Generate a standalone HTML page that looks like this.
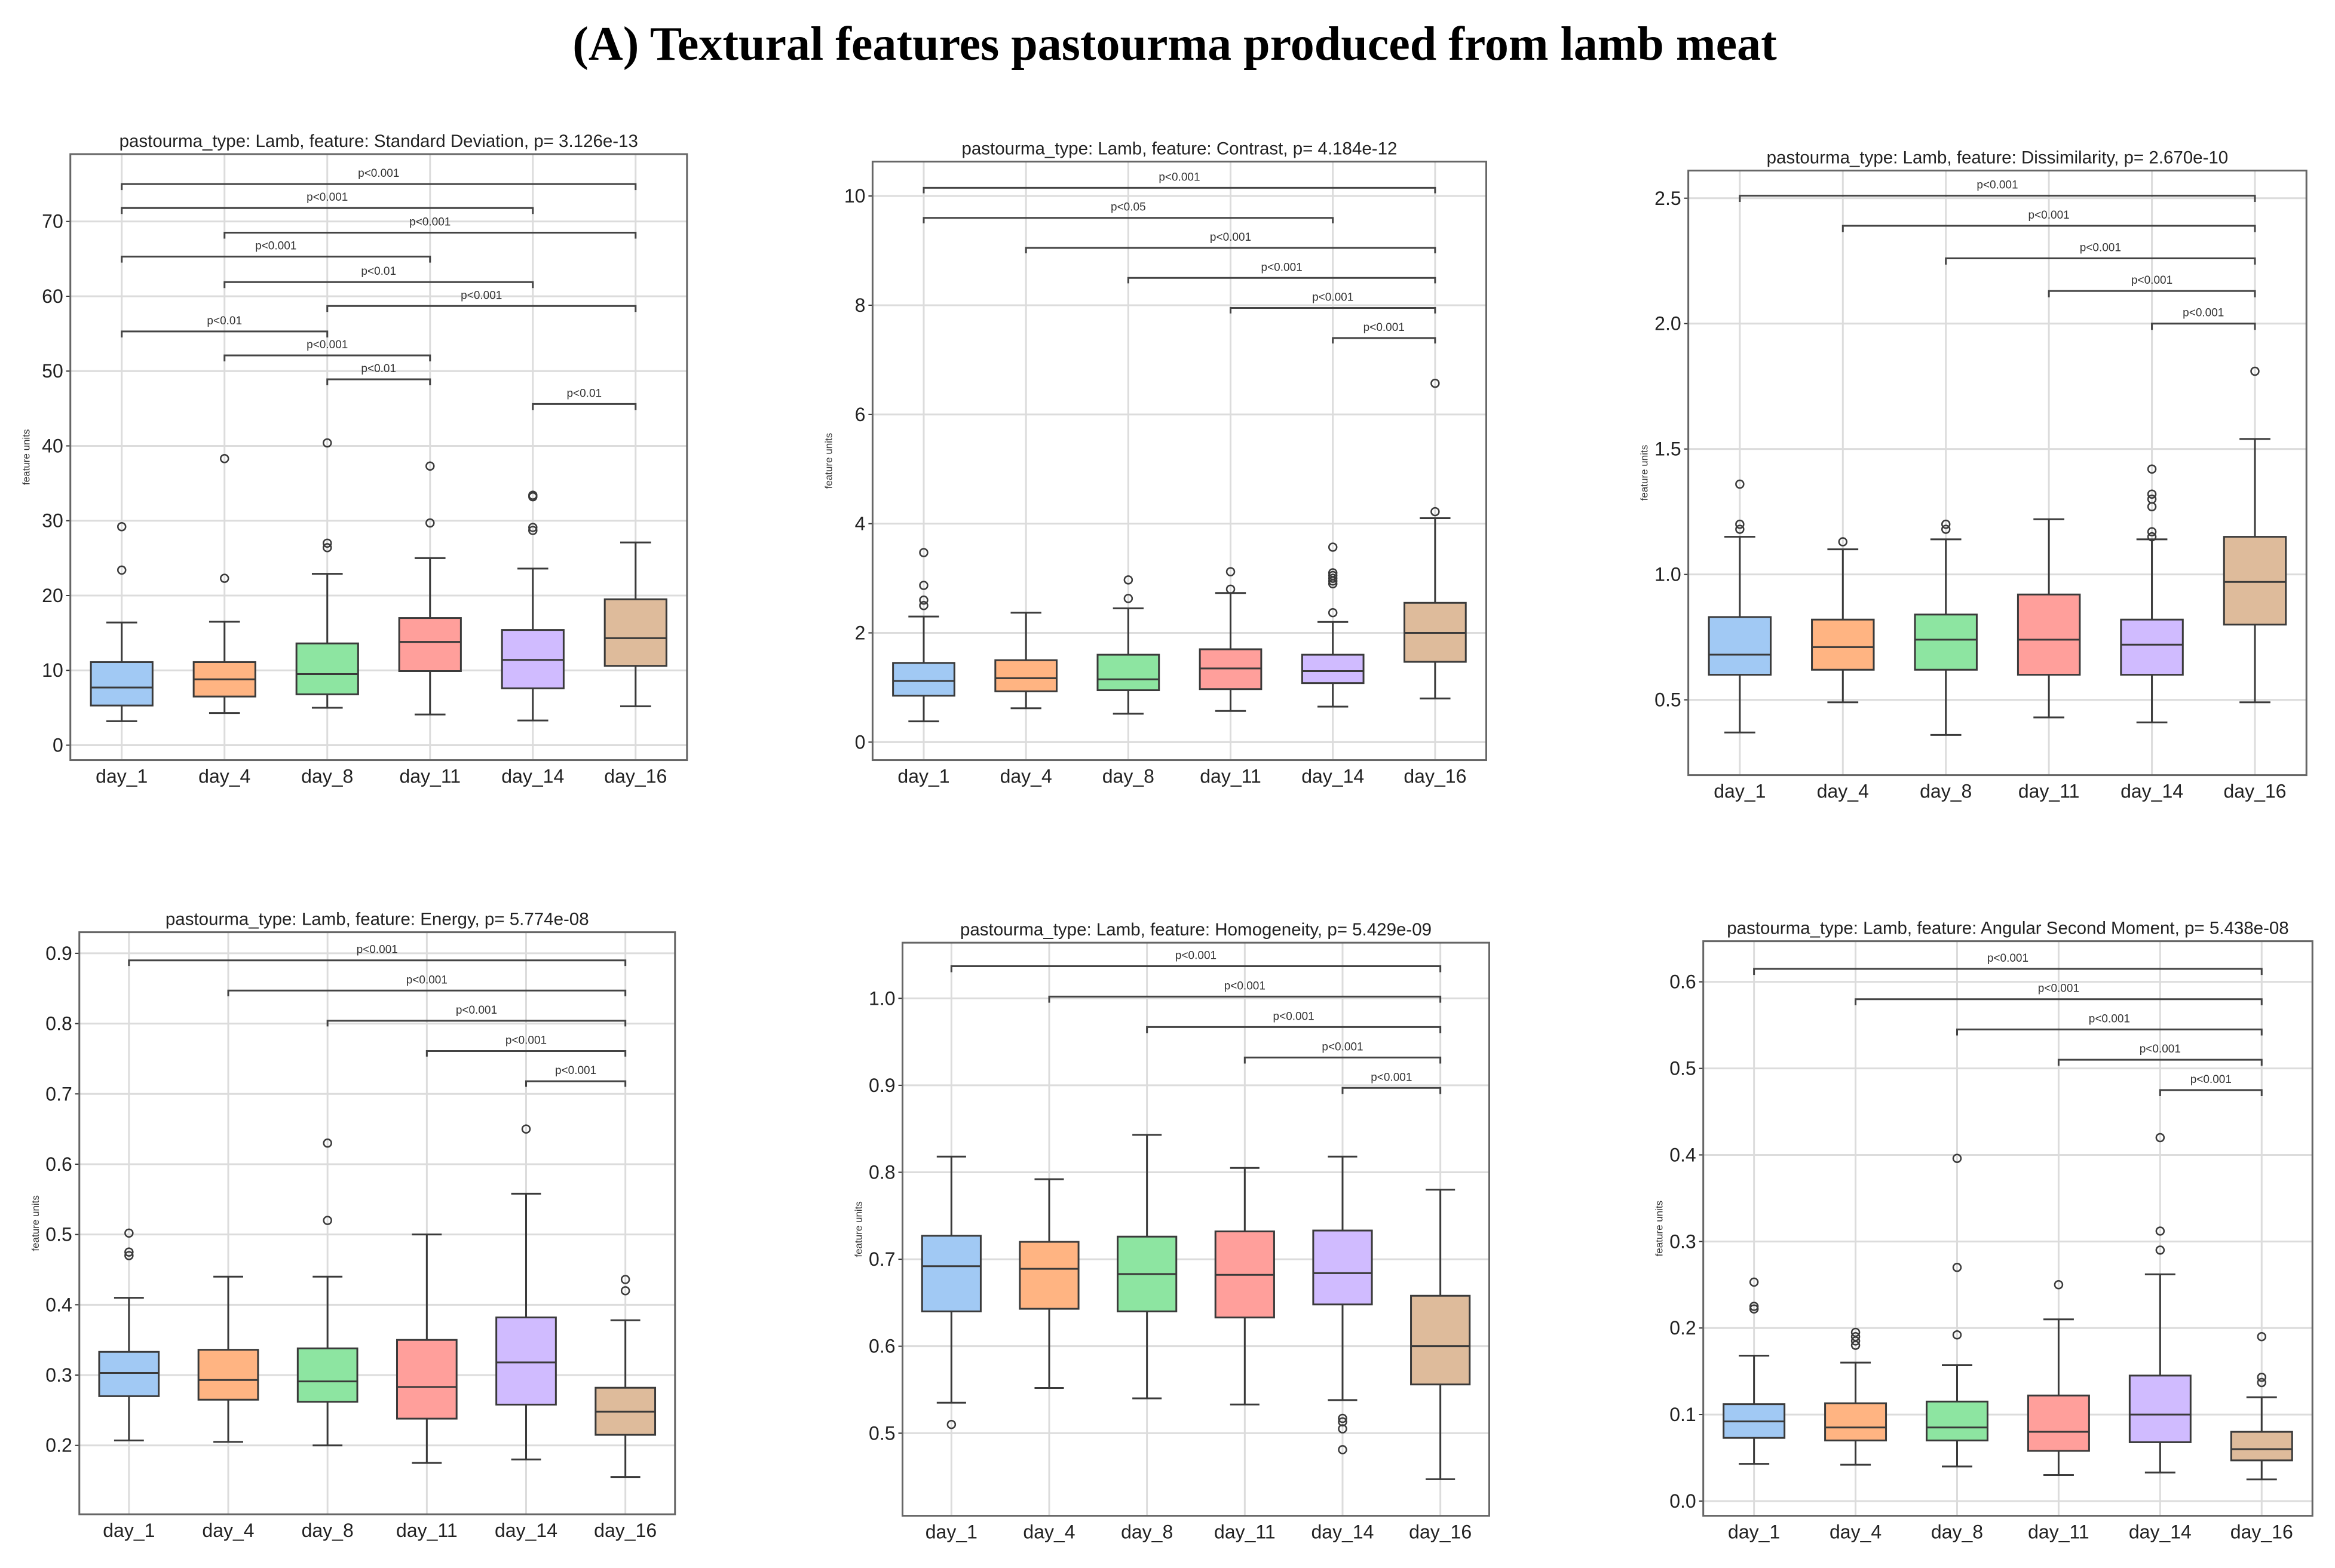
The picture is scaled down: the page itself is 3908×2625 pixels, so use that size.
<!DOCTYPE html>
<html><head><meta charset="utf-8">
<style>
html,body{margin:0;padding:0;background:#fff;}
svg{display:block;}
text{font-family:"Liberation Sans",sans-serif;}
</style></head>
<body>
<svg id="chart" width="3908" height="2625" viewBox="0 0 3908 2625" xmlns="http://www.w3.org/2000/svg">
<text x="1966" y="100" text-anchor="middle" font-size="80" font-weight="bold" style="font-family:'Liberation Serif',serif">(A) Textural features pastourma produced from lamb meat</text>
</svg>
<script>
const categories = ["day_1","day_4","day_8","day_11","day_14","day_16"];
const colors = ["#a1c9f4","#ffb482","#8de5a1","#ff9f9b","#d0bbff","#debb9b"];
const featureNames = ["Standard Deviation","Contrast","Dissimilarity","Energy","Homogeneity","Angular Second Moment"];
const pValues = ["3.126e-13","4.184e-12","2.670e-10","5.774e-08","5.429e-09","5.438e-08"];
// each box: [q1, median, q3, whiskerLow, whiskerHigh]
const sdBoxes = [[5.3,7.7,11.1,3.2,16.4],[6.5,8.8,11.1,4.3,16.5],[6.8,9.5,13.6,5.0,22.9],[9.9,13.8,17.0,4.1,25.0],[7.6,11.4,15.4,3.3,23.6],[10.6,14.3,19.5,5.2,27.1]];
const sdOutliers = [[23.4,29.2],[22.3,38.3],[26.4,27.0,40.4],[29.7,37.3],[28.7,29.1,33.2,33.4],[]];
const sdBrackets = [[0,5,75.0,"p<0.001"],[0,4,71.8,"p<0.001"],[1,5,68.5,"p<0.001"],[0,3,65.3,"p<0.001"],[1,4,61.9,"p<0.01"],[2,5,58.7,"p<0.001"],[0,2,55.3,"p<0.01"],[1,3,52.1,"p<0.001"],[2,3,48.9,"p<0.01"],[4,5,45.6,"p<0.01"]];
const sdTicks = [0,10,20,30,40,50,60,70];
const conBoxes = [[0.85,1.12,1.45,0.38,2.3],[0.93,1.17,1.5,0.62,2.37],[0.95,1.15,1.6,0.52,2.45],[0.97,1.35,1.7,0.57,2.73],[1.08,1.3,1.6,0.65,2.2],[1.47,2.0,2.55,0.8,4.1]];
const conOutliers = [[2.5,2.6,2.87,3.47],[],[2.63,2.97],[2.8,3.12],[2.37,2.9,2.95,3.0,3.05,3.1,3.57],[4.22,6.57]];
const conBrackets = [[0,5,10.15,"p<0.001"],[0,4,9.6,"p<0.05"],[1,5,9.05,"p<0.001"],[2,5,8.5,"p<0.001"],[3,5,7.95,"p<0.001"],[4,5,7.4,"p<0.001"]];
const conTicks = [0,2,4,6,8,10];
const disBoxes = [[0.6,0.68,0.83,0.37,1.15],[0.62,0.71,0.82,0.49,1.1],[0.62,0.74,0.84,0.36,1.14],[0.6,0.74,0.92,0.43,1.22],[0.6,0.72,0.82,0.41,1.14],[0.8,0.97,1.15,0.49,1.54]];
const disOutliers = [[1.18,1.2,1.36],[1.13],[1.18,1.2],[],[1.15,1.17,1.27,1.3,1.32,1.42],[1.81]];
const disBrackets = [[0,5,2.51,"p<0.001"],[1,5,2.39,"p<0.001"],[2,5,2.26,"p<0.001"],[3,5,2.13,"p<0.001"],[4,5,2.0,"p<0.001"]];
const disTicks = [0.5,1.0,1.5,2.0,2.5];
const enBoxes = [[0.27,0.303,0.333,0.207,0.41],[0.265,0.293,0.336,0.205,0.44],[0.262,0.291,0.338,0.2,0.44],[0.238,0.283,0.35,0.175,0.5],[0.258,0.318,0.382,0.18,0.558],[0.215,0.248,0.282,0.155,0.378]];
const enOutliers = [[0.47,0.475,0.502],[],[0.52,0.63],[],[0.65],[0.42,0.436]];
const enBrackets = [[0,5,0.89,"p<0.001"],[1,5,0.847,"p<0.001"],[2,5,0.804,"p<0.001"],[3,5,0.761,"p<0.001"],[4,5,0.718,"p<0.001"]];
const enTicks = [0.2,0.3,0.4,0.5,0.6,0.7,0.8,0.9];
const hoBoxes = [[0.64,0.692,0.727,0.535,0.818],[0.643,0.689,0.72,0.552,0.792],[0.64,0.683,0.726,0.54,0.843],[0.633,0.682,0.732,0.533,0.805],[0.648,0.684,0.733,0.538,0.818],[0.556,0.6,0.658,0.447,0.78]];
const hoOutliers = [[0.51],[],[],[],[0.517,0.513,0.505,0.481],[]];
const hoBrackets = [[0,5,1.037,"p<0.001"],[1,5,1.002,"p<0.001"],[2,5,0.967,"p<0.001"],[3,5,0.932,"p<0.001"],[4,5,0.897,"p<0.001"]];
const hoTicks = [0.5,0.6,0.7,0.8,0.9,1.0];
const asBoxes = [[0.073,0.092,0.112,0.043,0.168],[0.07,0.085,0.113,0.042,0.16],[0.07,0.085,0.115,0.04,0.157],[0.058,0.08,0.122,0.03,0.21],[0.068,0.1,0.145,0.033,0.262],[0.047,0.06,0.08,0.025,0.12]];
const asOutliers = [[0.222,0.225,0.253],[0.18,0.185,0.19,0.195],[0.192,0.27,0.396],[0.25],[0.29,0.312,0.42],[0.137,0.143,0.19]];
const asBrackets = [[0,5,0.615,"p<0.001"],[1,5,0.58,"p<0.001"],[2,5,0.545,"p<0.001"],[3,5,0.51,"p<0.001"],[4,5,0.475,"p<0.001"]];
const asTicks = [0.0,0.1,0.2,0.3,0.4,0.5,0.6];

const S = 2.505;
const NS = "http://www.w3.org/2000/svg";
const svg = document.getElementById("chart");
function mk(tag, attrs, parent){const e=document.createElementNS(NS,tag);for(const k in attrs)e.setAttribute(k,attrs[k]);parent.appendChild(e);return e;}

const panels = [
 {L:47,R:459,T:103,B:508,ymin:-2,ymax:79,boxes:sdBoxes,out:sdOutliers,br:sdBrackets,ticks:sdTicks,dec:0,bh:0.8},
 {L:583,R:993,T:108,B:508,ymin:-0.33,ymax:10.63,boxes:conBoxes,out:conOutliers,br:conBrackets,ticks:conTicks,dec:0,bh:0.1},
 {L:1128,R:1541,T:114,B:518,ymin:0.2,ymax:2.61,boxes:disBoxes,out:disOutliers,br:disBrackets,ticks:disTicks,dec:1,bh:0.025},
 {L:53,R:451,T:623,B:1012,ymin:0.102,ymax:0.93,boxes:enBoxes,out:enOutliers,br:enBrackets,ticks:enTicks,dec:1,bh:0.008},
 {L:603,R:995,T:630,B:1013,ymin:0.405,ymax:1.064,boxes:hoBoxes,out:hoOutliers,br:hoBrackets,ticks:hoTicks,dec:1,bh:0.007},
 {L:1138,R:1545,T:629,B:1013,ymin:-0.017,ymax:0.647,boxes:asBoxes,out:asOutliers,br:asBrackets,ticks:asTicks,dec:1,bh:0.007}
];

panels.forEach((p,pi)=>{
  const L=p.L*S,R=p.R*S,T=p.T*S,B=p.B*S;
  const g=mk("g",{},svg);
  
  
  const y=v=>B-(v-p.ymin)/(p.ymax-p.ymin)*(B-T);
  const step=(R-L)/categories.length;
  const x=i=>L+step*(i+0.5);
  p.ticks.forEach(t=>{
    const l=mk("line",{x1:L,x2:R,y1:y(t),y2:y(t),stroke:"#dcdcdc","stroke-width":3},g);
    
    
    const tl=mk("text",{x:L-12,y:y(t)+11,"text-anchor":"end","font-size":32,fill:"#222"},g);
    tl.textContent=t.toFixed(p.dec);
    
    
    mk("line",{x1:L-7,x2:L,y1:y(t),y2:y(t),stroke:"#333","stroke-width":2},g);
  });
  categories.forEach((c,i)=>{
    const l=mk("line",{x1:x(i),x2:x(i),y1:T,y2:B,stroke:"#dcdcdc","stroke-width":3},g);
    
    
    const tl=mk("text",{x:x(i),y:B+38,"text-anchor":"middle","font-size":32,fill:"#222"},g);
    tl.textContent=c;
    
    
  });
  const fr=mk("rect",{x:L,y:T,width:R-L,height:B-T,fill:"none",stroke:"#666","stroke-width":3},g);
  
  
  const tt=mk("text",{x:(L+R)/2,y:T-12,"text-anchor":"middle","font-size":29.5,fill:"#222"},g);
  tt.textContent="pastourma_type: Lamb, feature: "+featureNames[pi]+", p= "+pValues[pi];
  
  
  const yl=mk("text",{x:0,y:0,"text-anchor":"middle","font-size":17,fill:"#333",transform:`translate(${L-68},${(T+B)/2}) rotate(-90)`},g);
  yl.textContent="feature units";
  
  
  const bw=step*0.6, cw=bw/2;
  p.boxes.forEach((b,i)=>{
    const [q1,med,q3,wl,wh]=b;
    const cx=x(i);
    mk("line",{x1:cx,x2:cx,y1:y(q3),y2:y(wh),stroke:"#3a3a3a","stroke-width":3},g);
    mk("line",{x1:cx,x2:cx,y1:y(q1),y2:y(wl),stroke:"#3a3a3a","stroke-width":3},g);
    mk("line",{x1:cx-cw/2,x2:cx+cw/2,y1:y(wh),y2:y(wh),stroke:"#3a3a3a","stroke-width":3},g);
    mk("line",{x1:cx-cw/2,x2:cx+cw/2,y1:y(wl),y2:y(wl),stroke:"#3a3a3a","stroke-width":3},g);
    const r=mk("rect",{x:cx-bw/2,y:y(q3),width:bw,height:y(q1)-y(q3),fill:colors[i],stroke:"#3a3a3a","stroke-width":3},g);
    
    
    mk("line",{x1:cx-bw/2,x2:cx+bw/2,y1:y(med),y2:y(med),stroke:"#3a3a3a","stroke-width":3},g);
    p.out[i].forEach(o=>{
      const c=mk("circle",{cx:cx,cy:y(o),r:6.5,fill:"none",stroke:"#3a3a3a","stroke-width":2.5},g);
      
      
    });
  });
  p.br.forEach(br=>{
    const [a,b,v,lab]=br;
    const yy=y(v), yd=y(v-p.bh);
    const pl=mk("polyline",{points:`${x(a)},${yd} ${x(a)},${yy} ${x(b)},${yy} ${x(b)},${yd}`,fill:"none",stroke:"#444","stroke-width":3},g);
    
    
    const t=mk("text",{x:(x(a)+x(b))/2,y:yy-12,"text-anchor":"middle","font-size":19,fill:"#333"},g);
    t.textContent=lab;
    
    
  });
});
</script>
</body></html>
